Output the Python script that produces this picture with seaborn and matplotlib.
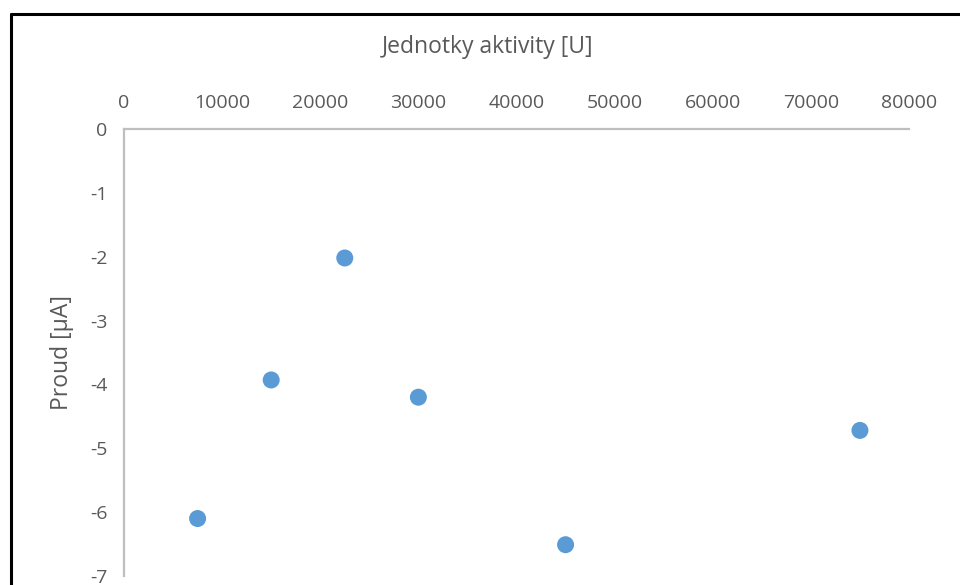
import matplotlib
matplotlib.use("Agg")
import matplotlib.pyplot as plt
from matplotlib.lines import Line2D
import pandas as pd
import seaborn as sns

# Data
units = [7500, 15000, 22500, 30000, 45000, 75000]
current = [-6.1, -3.93, -2.02, -4.2, -6.51, -4.72]
x_ticks = [0, 10000, 20000, 30000, 40000, 50000, 60000, 70000, 80000]
y_ticks = [0, -1, -2, -3, -4, -5, -6, -7]

df = pd.DataFrame({"units": units, "current": current})

sns.set_style("white")
plt.rcParams["font.family"] = ["Open Sans", "DejaVu Sans"]

text_color = "#595959"
axis_color = "#BFBFBF"
point_color = "#5B9BD5"

fig = plt.figure(figsize=(9.6, 5.85), dpi=100)
ax = fig.add_axes([124 / 960, 1 - 576 / 585, 785 / 960, 447 / 585])

sns.scatterplot(data=df, x="units", y="current", ax=ax, color=point_color,
                s=150, edgecolor="none", clip_on=False)

ax.set_xlim(0, 80000)
ax.set_ylim(-7, 0)
ax.set_xticks(x_ticks)
ax.set_yticks(y_ticks)
ax.set_xticklabels([str(t) for t in x_ticks])
ax.set_yticklabels([str(t) for t in y_ticks])
ax.xaxis.tick_top()
ax.xaxis.set_label_position("top")
ax.tick_params(axis="both", length=0, labelsize=14, labelcolor=text_color)
ax.tick_params(axis="x", pad=12)
ax.tick_params(axis="y", pad=12)

for side in ["right", "bottom"]:
    ax.spines[side].set_visible(False)
for side in ["top", "left"]:
    ax.spines[side].set_color(axis_color)
    ax.spines[side].set_linewidth(1.6)

ax.set_xlabel("Jednotky aktivity [U]", fontsize=16.5, color=text_color,
              va="center", ha="center")
ax.xaxis.set_label_coords((488 - 124) / 785, (576 - 47) / 447)
ax.set_ylabel("Proud [µA]", fontsize=16.5, color=text_color,
              va="center", ha="center")
ax.yaxis.set_label_coords((62 - 124) / 785, (576 - 352) / 447)

# outer frame (left and top edges visible in the reference)
fig.add_artist(Line2D([10.5 / 960, 10.5 / 960], [0, 1 - 13.5 / 585],
                      transform=fig.transFigure, color="black", lw=2.2))
fig.add_artist(Line2D([10.5 / 960, 1], [1 - 13.5 / 585, 1 - 13.5 / 585],
                      transform=fig.transFigure, color="black", lw=2.2))

fig.savefig("out.png", dpi=100)
